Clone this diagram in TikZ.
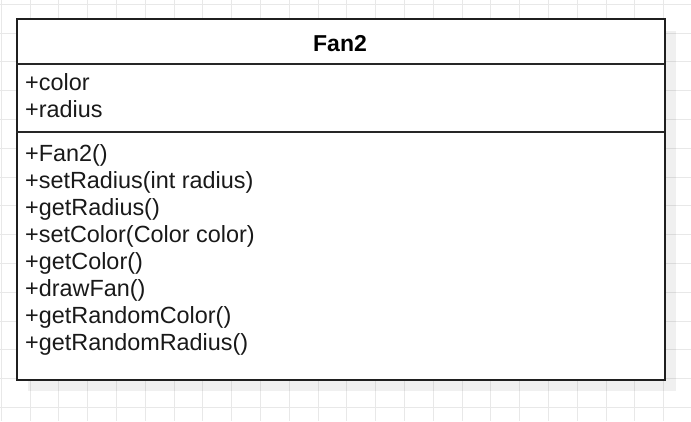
\documentclass[tikz,border=0pt]{standalone}
\usepackage{fontspec}
\setmainfont{Liberation Sans}
\begin{document}
\begin{tikzpicture}[x=1pt,y=-1pt,
  gridline/.style={draw=black!9,line width=1pt},
  classbox/.style={draw=black!88,line width=1.8pt,fill=white},
  sepline/.style={draw=black!85,line width=1.6pt},
  shadowbox/.style={fill=black,fill opacity=0.06},
  member/.style={anchor=base west,inner sep=0pt,font=\fontsize{23.4}{27}\selectfont,text=black!90},
  title/.style={anchor=base,inner sep=0pt,font=\fontsize{23}{27}\selectfont\bfseries,text=black}]
\useasboundingbox (0,0) rectangle (691,421);
\fill[white] (0,0) rectangle (691,421);
% grid
\foreach \k in {0,...,23} {\draw[gridline] ({1.2+28.8*\k},0) -- ({1.2+28.8*\k},421);}
\foreach \k in {0,...,14} {\draw[gridline] (0,{4.3+28.8*\k}) -- (691,{4.3+28.8*\k});}
% shadow
\fill[shadowbox] (28,31) rectangle (676,391);
% class box
\node[classbox,minimum width=648pt,minimum height=361pt,anchor=north west,inner sep=0pt] (cls) at (16,18) {};
\coordinate (s1l) at (16,64);
\coordinate (s1r) at (664,64);
\coordinate (s2l) at (16,132);
\coordinate (s2r) at (664,132);
\draw[sepline] (s1l) -- (s1r);
\draw[sepline] (s2l) -- (s2r);
\node[title] (name) at (340,51.5) {Fan2};
\node[member] (a1) at (25,90.7) {+color};
\node[member] (a2) at (25,117.5) {+radius};
\node[member] (m1) at (25,161.3) {+Fan2()};
\node[member] (m2) at (25,188.3) {+setRadius(int radius)};
\node[member] (m3) at (25,215.3) {+getRadius()};
\node[member] (m4) at (25,242.3) {+setColor(Color color)};
\node[member] (m5) at (25,269.3) {+getColor()};
\node[member] (m6) at (25,296.3) {+drawFan()};
\node[member] (m7) at (25,323.3) {+getRandomColor()};
\node[member] (m8) at (25,350.3) {+getRandomRadius()};
\end{tikzpicture}
\end{document}
